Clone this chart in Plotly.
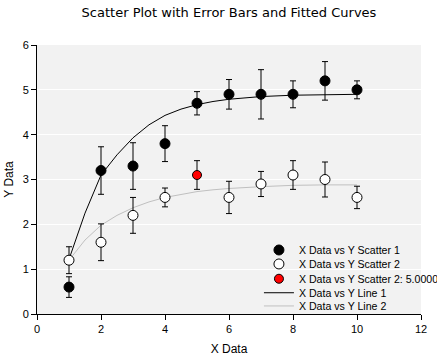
import plotly.graph_objects as go

x_pts = [1, 2, 3, 4, 5, 6, 7, 8, 9, 10]
y1 = [0.6, 3.2, 3.3, 3.8, 4.7, 4.9, 4.9, 4.9, 5.2, 5.0]
e1 = [0.23, 0.53, 0.52, 0.4, 0.26, 0.33, 0.55, 0.3, 0.43, 0.2]
x2 = [1, 2, 3, 4, 6, 7, 8, 9, 10]
y2 = [1.2, 1.6, 2.2, 2.6, 2.6, 2.9, 3.1, 3.0, 2.6]
e2 = [0.3, 0.41, 0.4, 0.21, 0.36, 0.28, 0.32, 0.39, 0.25]
x_sel = [5]
y_sel = [3.1]
e_sel = [0.32]

x_fit = [1, 1.5, 2, 2.5, 3, 3.5, 4, 4.5, 5, 5.5, 6, 7, 8, 9, 10]
fit1 = [1.22, 2.25, 3.1, 3.55, 3.93, 4.22, 4.43, 4.57, 4.67, 4.74, 4.79, 4.85, 4.88, 4.89, 4.9]
fit2 = [1.2, 1.65, 1.98, 2.2, 2.37, 2.5, 2.6, 2.67, 2.73, 2.77, 2.8, 2.84, 2.87, 2.88, 2.88]

FONT = "Liberation Sans, Arial, sans-serif"

def err(vals):
    return dict(type="data", array=vals, visible=True, color="black", thickness=1, width=3)

fig = go.Figure()
fig.add_trace(go.Scatter(x=x_fit, y=fit1, mode="lines", line=dict(color="black", width=1),
                         name="X Data vs Y Line 1", legend="legend4"))
fig.add_trace(go.Scatter(x=x_fit, y=fit2, mode="lines", line=dict(color="#c0c0c0", width=1),
                         name="X Data vs Y Line 2", legend="legend5"))
fig.add_trace(go.Scatter(x=x_pts, y=y1, mode="markers", error_y=err(e1),
                         marker=dict(color="black", size=10, line=dict(color="black", width=1)),
                         name="X Data vs Y Scatter 1", legend="legend"))
fig.add_trace(go.Scatter(x=x2, y=y2, mode="markers", error_y=err(e2),
                         marker=dict(color="white", size=10, line=dict(color="black", width=1)),
                         name="X Data vs Y Scatter 2", legend="legend2"))
fig.add_trace(go.Scatter(x=x_sel, y=y_sel, mode="markers", error_y=err(e_sel),
                         marker=dict(color="red", size=9, line=dict(color="black", width=1)),
                         name="X Data vs Y Scatter 2: 5.0000", legend="legend3"))

def leg(y):
    return dict(x=0.578, y=y, xanchor="left", yanchor="middle", bgcolor="rgba(0,0,0,0)",
                font=dict(family=FONT, size=10.6, color="black"), itemwidth=30,
                borderwidth=0)

fig.update_layout(
    width=437, height=356,
    margin=dict(l=37, r=16, t=45, b=42, autoexpand=False),
    paper_bgcolor="white", plot_bgcolor="#f2f2f2",
    font=dict(family=FONT, size=11, color="black"),
    title=dict(text="Scatter Plot with Error Bars and Fitted Curves", x=0.5, xref="paper",
               xanchor="center", y=0.965, yanchor="middle",
               font=dict(family="DejaVu Sans", size=13, color="black")),
    showlegend=True,
    legend=leg(0.238), legend2=leg(0.186), legend3=leg(0.131),
    legend4=leg(0.079), legend5=leg(0.030),
    xaxis=dict(range=[0, 12], tickvals=[0, 2, 4, 6, 8, 10, 12], showgrid=False, zeroline=False,
               showline=True, linecolor="black", linewidth=1, ticks="outside", ticklen=5,
               tickcolor="black", tickfont=dict(family=FONT, size=11), automargin=False,
               title=dict(text="X Data", font=dict(family=FONT, size=12), standoff=14)),
    yaxis=dict(range=[0, 6], tickvals=[0, 1, 2, 3, 4, 5, 6], showgrid=True, gridcolor="white",
               gridwidth=1, zeroline=False, showline=True, linecolor="black", linewidth=1,
               ticks="outside", ticklen=5, tickcolor="black", tickfont=dict(family=FONT, size=11),
               automargin=False,
               title=dict(text="Y Data", font=dict(family=FONT, size=12), standoff=6)),
)

fig.write_html("out.html", config={"displayModeBar": False},
               post_script="document.body.style.margin='0';")
